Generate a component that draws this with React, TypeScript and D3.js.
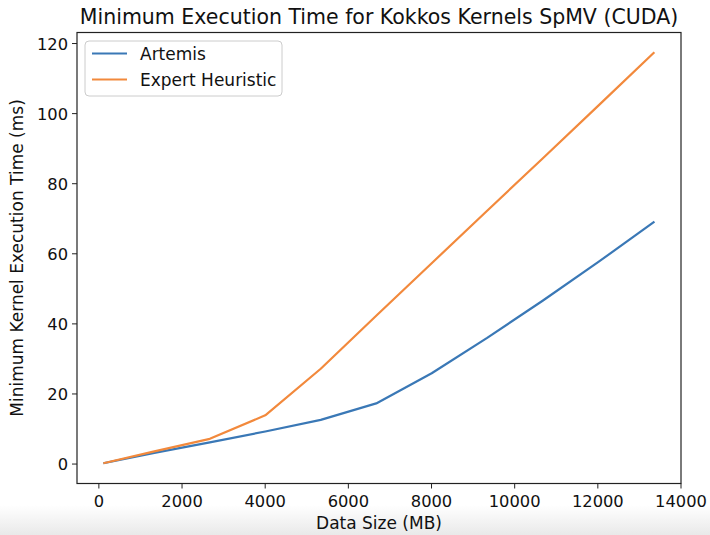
import React from "react";
import * as d3 from "d3";

const dataSizes = [134, 1334, 2668, 4002, 5336, 6670, 8004, 9338, 10672, 12006, 13340];
const artemis = [0.3, 3.2, 6.2, 9.3, 12.6, 17.3, 25.9, 36.0, 46.6, 57.6, 69.0];
const expert = [0.3, 3.6, 7.2, 13.9, 27.2, 42.3, 57.3, 72.3, 87.2, 102.2, 117.3];
const xTicks = [0, 2000, 4000, 6000, 8000, 10000, 12000, 14000];
const yTicks = [0, 20, 40, 60, 80, 100, 120];
const seriesNames = ["Artemis", "Expert Heuristic"];
const seriesColors = ["#3a78b6", "#f2893c"];

const W = 710;
const H = 535;
const left = 77;
const right = 681;
const top = 32.5;
const bottom = 483.5;
const font = "DejaVu Sans, sans-serif";

export default function App() {
  const x = d3.scaleLinear().domain([-526, 14000]).range([left, right]);
  const y = d3.scaleLinear().domain([-5.55, 123.15]).range([bottom, top]);
  const line = d3
    .line<[number, number]>()
    .x((d) => x(d[0]))
    .y((d) => y(d[1]));
  const series = [artemis, expert].map((vals) =>
    vals.map((v, i) => [dataSizes[i], v] as [number, number])
  );

  return (
    <svg
      width={W}
      height={H}
      style={{ position: "absolute", left: 0, top: 0, background: "#fff" }}
      fontFamily={font}
    >
      <defs>
        <linearGradient id="fade" x1="0" y1="0" x2="0" y2="1">
          <stop offset="0" stopColor="#ffffff" />
          <stop offset="1" stopColor="#e9e9e9" />
        </linearGradient>
      </defs>
      <rect x={0} y={0} width={W} height={H} fill="#fff" />
      <rect x={0} y={505} width={W} height={30} fill="url(#fade)" />

      <text x={(left + right) / 2} y={24} textAnchor="middle" fontSize={20.5} fill="#111">
        Minimum Execution Time for Kokkos Kernels SpMV (CUDA)
      </text>

      {series.map((s, i) => (
        <path
          key={i}
          d={line(s) || ""}
          fill="none"
          stroke={seriesColors[i]}
          strokeWidth={2.2}
          strokeLinejoin="round"
          strokeLinecap="square"
        />
      ))}

      <rect
        x={left}
        y={top}
        width={right - left}
        height={bottom - top}
        fill="none"
        stroke="#222"
        strokeWidth={1.2}
      />

      {xTicks.map((t) => (
        <g key={t}>
          <line x1={x(t)} x2={x(t)} y1={bottom} y2={bottom + 5} stroke="#222" strokeWidth={1} />
          <text x={x(t)} y={bottom + 23} textAnchor="middle" fontSize={16.3} fill="#111">
            {t}
          </text>
        </g>
      ))}
      {yTicks.map((t) => (
        <g key={t}>
          <line x1={left - 5} x2={left} y1={y(t)} y2={y(t)} stroke="#222" strokeWidth={1} />
          <text x={left - 9} y={y(t) + 6} textAnchor="end" fontSize={16.3} fill="#111">
            {t}
          </text>
        </g>
      ))}

      <text x={(left + right) / 2} y={529} textAnchor="middle" fontSize={17} fill="#111">
        Data Size (MB)
      </text>
      <text
        transform={`translate(23, ${(top + bottom) / 2}) rotate(-90)`}
        textAnchor="middle"
        fontSize={17}
        fill="#111"
      >
        Minimum Kernel Execution Time (ms)
      </text>

      <rect x={85} y={41} width={197} height={55} rx={4} fill="#fff" fillOpacity={0.8} stroke="#cccccc" strokeWidth={1} />
      {seriesNames.map((n, i) => (
        <g key={n}>
          <line
            x1={92}
            x2={127}
            y1={53.5 + i * 26}
            y2={53.5 + i * 26}
            stroke={seriesColors[i]}
            strokeWidth={2.2}
          />
          <text x={140} y={53.5 + i * 26 + 6} fontSize={17} fill="#111">
            {n}
          </text>
        </g>
      ))}
    </svg>
  );
}
